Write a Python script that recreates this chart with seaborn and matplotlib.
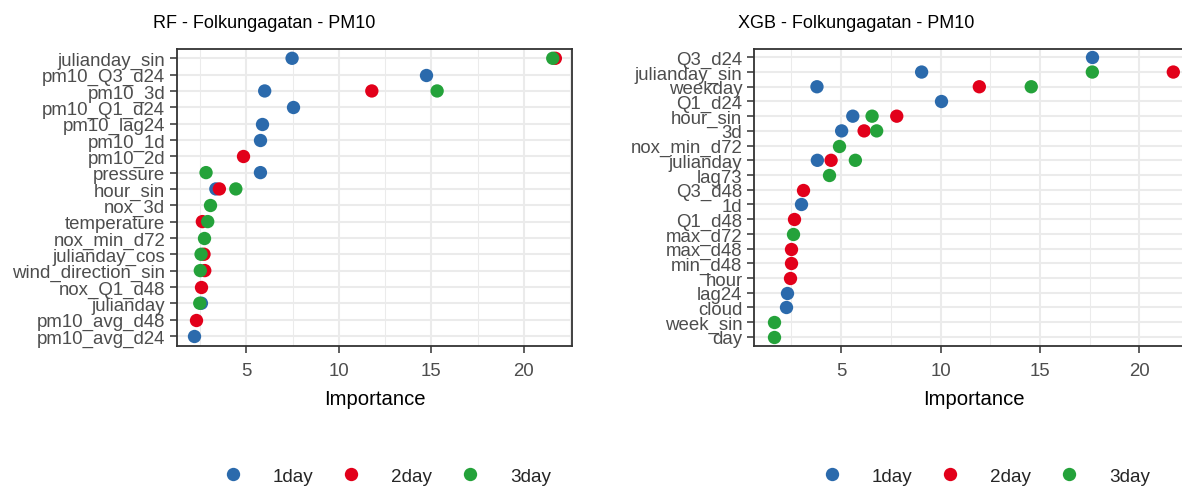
import numpy as np
import pandas as pd
import matplotlib
matplotlib.use("Agg")
import matplotlib.pyplot as plt
import seaborn as sns
from matplotlib.lines import Line2D
from matplotlib.ticker import MultipleLocator

nan = np.nan

# Forecast horizons and their colours
horizons = ["1day", "2day", "3day"]
horizon_colors = ["#2B6AAC", "#E2001A", "#24A23A"]

# Random forest feature importances (top to bottom)
rf_features = ["julianday_sin", "pm10_Q3_d24", "pm10_3d", "pm10_Q1_d24", "pm10_lag24",
               "pm10_1d", "pm10_2d", "pressure", "hour_sin", "nox_3d", "temperature",
               "nox_min_d72", "julianday_cos", "wind_direction_sin", "nox_Q1_d48",
               "julianday", "pm10_avg_d48", "pm10_avg_d24"]
rf_1day = [7.47, 14.71, 5.99, 7.52, 5.83, 5.76, nan, 5.76, 3.35, nan, nan,
           nan, nan, nan, nan, 2.57, nan, 2.19]
rf_2day = [21.70, nan, 11.78, nan, nan, nan, 4.82, nan, 3.54, nan, 2.62,
           nan, 2.71, 2.75, 2.53, nan, 2.30, nan]
rf_3day = [21.56, nan, 15.31, nan, nan, nan, nan, 2.82, 4.43, 3.06, 2.91,
           2.71, 2.55, 2.51, nan, 2.48, nan, nan]

# XGBoost feature importances (top to bottom)
xgb_features = ["Q3_d24", "julianday_sin", "weekday", "Q1_d24", "hour_sin", "3d",
                "nox_min_d72", "julianday", "lag73", "Q3_d48", "1d", "Q1_d48",
                "max_d72", "max_d48", "min_d48", "hour", "lag24", "cloud",
                "week_sin", "day"]
xgb_1day = [17.61, 9.05, 3.79, 10.04, 5.59, 5.03, nan, 3.81, nan, nan, 2.99, nan,
            nan, nan, nan, nan, 2.30, 2.24, nan, nan]
xgb_2day = [nan, 21.70, 11.95, nan, 7.80, 6.16, nan, 4.50, nan, 3.08, nan, 2.65,
            nan, 2.49, 2.49, 2.45, nan, nan, nan, nan]
xgb_3day = [nan, 17.63, 14.56, nan, 6.56, 6.79, 4.90, 5.72, 4.38, nan, nan, nan,
            2.59, nan, nan, nan, nan, nan, 1.65, 1.62]

panel_titles = ["RF - Folkungagatan - PM10", "XGB - Folkungagatan - PM10"]


def long_frame(features, series):
    rows = []
    for horizon, values in zip(horizons, series):
        for feat, val in zip(features, values):
            if not np.isnan(val):
                rows.append({"Feature": feat, "Importance": val, "Horizon": horizon})
    return pd.DataFrame(rows)


sns.set_theme(style="white")
plt.rcParams["font.family"] = ["Liberation Sans", "DejaVu Sans"]

W, H = 1182, 489
fig = plt.figure(figsize=(W / 100, H / 100), dpi=100)
fig.patch.set_facecolor("white")


def axes_px(left, top, right, bottom):
    return fig.add_axes([left / W, 1 - bottom / H, (right - left) / W, (bottom - top) / H])


panels = [
    dict(features=rf_features, series=[rf_1day, rf_2day, rf_3day],
         box=(177, 49.5, 572, 346.7), xlim=(1.25, 22.6),
         title_x=153, legend_x=387),
    dict(features=xgb_features, series=[xgb_1day, xgb_2day, xgb_3day],
         box=(754.3, 49.5, 1193.2, 346.7), xlim=(0.64, 22.7),
         title_x=738, legend_x=986),
]

for panel, title in zip(panels, panel_titles):
    ax = axes_px(*panel["box"])
    df = long_frame(panel["features"], panel["series"])
    sns.stripplot(data=df, x="Importance", y="Feature", hue="Horizon",
                  order=panel["features"], hue_order=horizons,
                  palette=horizon_colors, jitter=False, dodge=False,
                  size=9.6, linewidth=0, legend=False, ax=ax, zorder=3)

    n = len(panel["features"])
    ax.set_ylim(n - 1 + 0.6, -0.6)
    ax.set_xlim(*panel["xlim"])
    ax.xaxis.set_major_locator(MultipleLocator(5))
    ax.xaxis.set_minor_locator(MultipleLocator(2.5))

    ax.set_axisbelow(True)
    ax.grid(which="major", axis="both", color="#EBEBEB", linewidth=1.5)
    ax.grid(which="minor", axis="x", color="#EBEBEB", linewidth=0.75)

    for spine in ax.spines.values():
        spine.set_color("#333333")
        spine.set_linewidth(1.3)

    ax.tick_params(which="major", length=5, width=1.1, color="#333333",
                   labelcolor="#4D4D4D", labelsize=13.4, pad=3.5,
                   bottom=True, left=True)
    ax.tick_params(axis="x", which="major", pad=7)
    ax.tick_params(which="minor", length=0)
    ax.set_ylabel("")
    ax.set_xlabel("Importance", fontsize=14.6, color="black", labelpad=7)

    fig.text(panel["title_x"] / W, 1 - 24 / H, title, ha="left", va="center",
             fontsize=13, color="black")

    handles = [Line2D([0], [0], marker="o", linestyle="", markersize=9.6,
                      markerfacecolor=c, markeredgewidth=0) for c in horizon_colors]
    fig.legend(handles, horizons, loc="center",
               bbox_to_anchor=(panel["legend_x"] / W, 1 - 477 / H),
               ncol=3, frameon=False, handlelength=1.0, handletextpad=1.62,
               columnspacing=1.5, fontsize=13.6, borderpad=0, borderaxespad=0)

fig.savefig("out.png", dpi=100, facecolor="white")
